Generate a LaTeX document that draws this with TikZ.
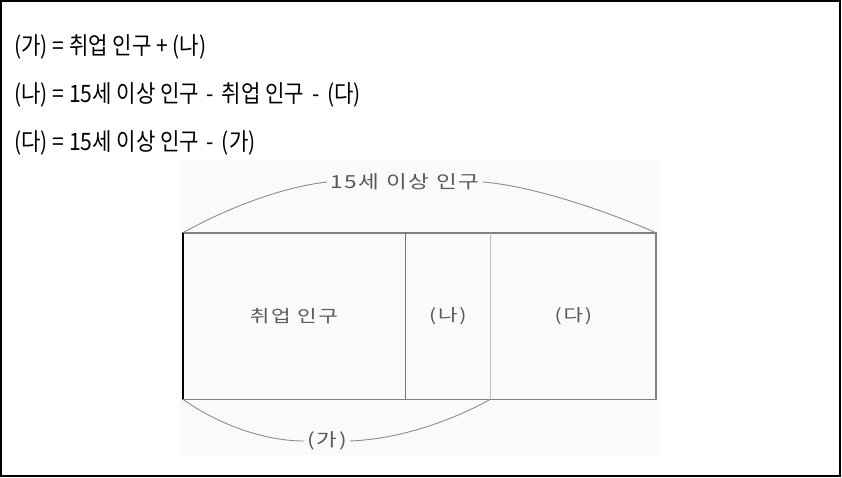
\documentclass[tikz,border=0pt]{standalone}
\usepackage{fontspec}
\newfontfamily\kr[FakeStretch=0.88]{Noto Sans CJK KR}
\newfontfamily\krdiag[FakeStretch=1.25,LetterSpace=10]{Noto Sans CJK KR}
\usetikzlibrary{positioning}
\newcommand\mn{\kern3pt-\kern3pt}

\begin{document}
\begin{tikzpicture}[
    x=1pt, y=-1pt,
    eqline/.style={anchor=west, inner sep=0pt,
                   font=\kr\fontsize{24}{28}\selectfont},
    part/.style={minimum height=166pt, inner sep=0pt,
                 font=\krdiag\fontsize{17}{19}\selectfont, text=black!65},
    lbl/.style={inner sep=3pt, font=\krdiag\fontsize{18}{20}\selectfont,
                text=black!65},
    outline/.style={draw=gray, line width=1.4pt},
    brace/.style={draw=black!45, line width=0.9pt},
  ]
  \useasboundingbox (0,0) rectangle (842,477);
  \draw[line width=1.5pt] (1,1) rectangle (840,476);

  % Equations
  \node[eqline] (eq1) at (14,47) {(가) = 취업 인구 + (나)};
  \node[eqline] (eq2) at (14,95) {(나) = 15세 이상 인구 \mn{} 취업 인구 \mn{} (다)};
  \node[eqline] (eq3) at (14,143) {(다) = 15세 이상 인구 \mn{} (가)};

  % Population bar
  \fill[black!2] (180,160) rectangle (660,455);
  \node[part, minimum width=222pt] (emp) at (294,316) {취업 인구};
  \node[part, minimum width=85pt, right=0pt of emp] (na) {(나)};
  \node[part, minimum width=165pt, right=0pt of na] (da) {(다)};

  \draw[outline] (emp.north west) rectangle (da.south east);
  \draw[draw=black!55, line width=1.4pt] (emp.north east) -- (emp.south east);
  \draw[draw=black!25, line width=1.2pt] (na.north east) -- (na.south east);
  \draw[line width=2.4pt] (emp.north west) -- (emp.south west);

  % Span labels
  \node[lbl] (total) at (405,182) {15세 이상 인구};
  \node[lbl] (ga) at (327,441) {(가)};

  \draw[brace] (emp.north west) .. controls +(45,-25) and +(-45,5) .. (total.west);
  \draw[brace] (total.east) .. controls +(50,4) and +(-50,-22) .. (da.north east);
  \draw[brace] (emp.south west) .. controls +(35,25) and +(-40,0) .. (ga.west);
  \draw[brace] (ga.east) .. controls +(50,-2) and +(-40,22) .. (na.south east);
\end{tikzpicture}
\end{document}
